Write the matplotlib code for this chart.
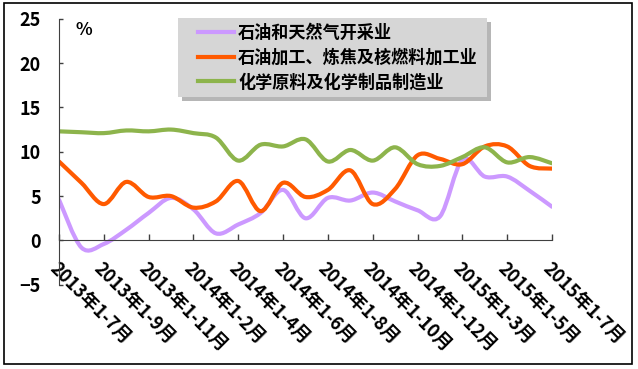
import numpy as np
import matplotlib
matplotlib.use("Agg")
import matplotlib.pyplot as plt
from matplotlib.path import Path
from matplotlib.patches import PathPatch, Rectangle
from matplotlib.lines import Line2D

plt.rcParams['font.family'] = ['Noto Sans CJK SC', 'DejaVu Sans']
plt.rcParams['font.weight'] = 'bold'

# monthly cumulative periods
periods = ['2013年1-7月', '2013年1-8月', '2013年1-9月', '2013年1-10月', '2013年1-11月',
           '2013年1-12月', '2014年1-2月', '2014年1-3月', '2014年1-4月', '2014年1-5月',
           '2014年1-6月', '2014年1-7月', '2014年1-8月', '2014年1-9月', '2014年1-10月',
           '2014年1-11月', '2014年1-12月', '2015年1-2月', '2015年1-3月', '2015年1-4月',
           '2015年1-5月', '2015年1-6月', '2015年1-7月']

oil_gas = [4.6, -0.8, -0.4, 1.2, 3.1, 4.8, 3.5, 0.8, 1.8, 3.1, 5.7, 2.5,
           4.8, 4.5, 5.4, 4.4, 3.4, 2.7, 9.1, 7.2, 7.2, 5.6, 3.8]
refining = [8.9, 6.5, 4.1, 6.6, 4.9, 5.0, 3.7, 4.4, 6.7, 3.3, 6.5, 4.9,
            5.7, 7.9, 4.1, 5.8, 9.6, 9.2, 8.6, 10.6, 10.6, 8.4, 8.1]
chemical = [12.3, 12.2, 12.1, 12.4, 12.3, 12.5, 12.1, 11.6, 9.0, 10.8, 10.6, 11.4,
            8.9, 10.2, 9.0, 10.5, 8.6, 8.4, 9.4, 10.5, 8.8, 9.4, 8.7]

names = ['石油和天然气开采业', '石油加工、炼焦及核燃料加工业', '化学原料及化学制品制造业']
colors = ['#cc99ff', '#ff5a00', '#8db44c']


def smooth_path(xs, ys):
    # excel-like smoothed line: catmull-rom segments as cubic beziers
    pts = np.column_stack([xs, ys]).astype(float)
    n = len(pts)
    verts = [pts[0]]
    codes = [Path.MOVETO]
    for i in range(n - 1):
        p0 = pts[max(i - 1, 0)]
        p1 = pts[i]
        p2 = pts[i + 1]
        p3 = pts[min(i + 2, n - 1)]
        verts += [p1 + (p2 - p0) / 6.0, p2 - (p3 - p1) / 6.0, p2]
        codes += [Path.CURVE4] * 3
    return Path(verts, codes)


W, H = 638, 369
fig = plt.figure(figsize=(6.38, 3.69), dpi=100)
ax = fig.add_axes([59 / W, 1 - 284.8 / H, 493 / W, 266.1 / H])

x = np.arange(len(periods))
handles = []
for ys, c, nm in zip([oil_gas, refining, chemical], colors, names):
    ax.add_patch(PathPatch(smooth_path(x, ys), fill=False, ec=c, lw=3.0,
                           capstyle='round', joinstyle='round'))
    handles.append(Line2D([], [], color=c, lw=3.0, label=nm))

ax.set_xlim(0, len(periods) - 1)
ax.set_ylim(-5, 25)

axis_c = '#404040'
for s in ['top', 'right']:
    ax.spines[s].set_visible(False)
ax.spines['left'].set_color(axis_c)
ax.spines['bottom'].set_color(axis_c)
ax.spines['bottom'].set_position(('data', 0))

ax.set_yticks(np.arange(-5, 26, 5))
ax.tick_params(axis='y', direction='in', length=3, width=1, color=axis_c,
               labelsize=13, pad=13)
ax.set_xticks(x[::2])
ax.set_xticklabels(periods[::2], rotation=-45, ha='left', va='top',
                   rotation_mode='anchor', fontsize=13)
ax.tick_params(axis='x', direction='in', length=4.5, width=1, color=axis_c, pad=13)
for lab in ax.get_yticklabels() + ax.get_xticklabels():
    lab.set_fontweight('bold')

ax.text(76 / W, 1 - 30 / H, '%', transform=fig.transFigure, fontsize=12.5,
        fontweight='bold', va='center', ha='left')

# legend background box with soft shadow
fig.add_artist(Rectangle((182 / W, 1 - 101 / H), 309 / W, 79 / H, transform=fig.transFigure,
                         fc='#7a7a7a', ec='none', alpha=0.55, zorder=2))
fig.add_artist(Rectangle((178 / W, 1 - 97 / H), 309 / W, 79 / H, transform=fig.transFigure,
                         fc='#d6d6d6', ec='none', zorder=3))

leg = fig.legend(handles=handles, loc='center left',
                 bbox_to_anchor=(198 / W, 1 - 57.5 / H), bbox_transform=fig.transFigure,
                 fontsize=12.3, frameon=False, handlelength=2.1,
                 handletextpad=0.25, labelspacing=0.4, borderpad=0, borderaxespad=0)
leg.set_zorder(4)
for t in leg.get_texts():
    t.set_fontweight('bold')

fig.add_artist(Rectangle((4 / W, 1 - 364 / H), 628 / W, 361 / H,
                         transform=fig.transFigure, fill=False, ec='black', lw=1.2))

fig.savefig('out.png', dpi=100)
